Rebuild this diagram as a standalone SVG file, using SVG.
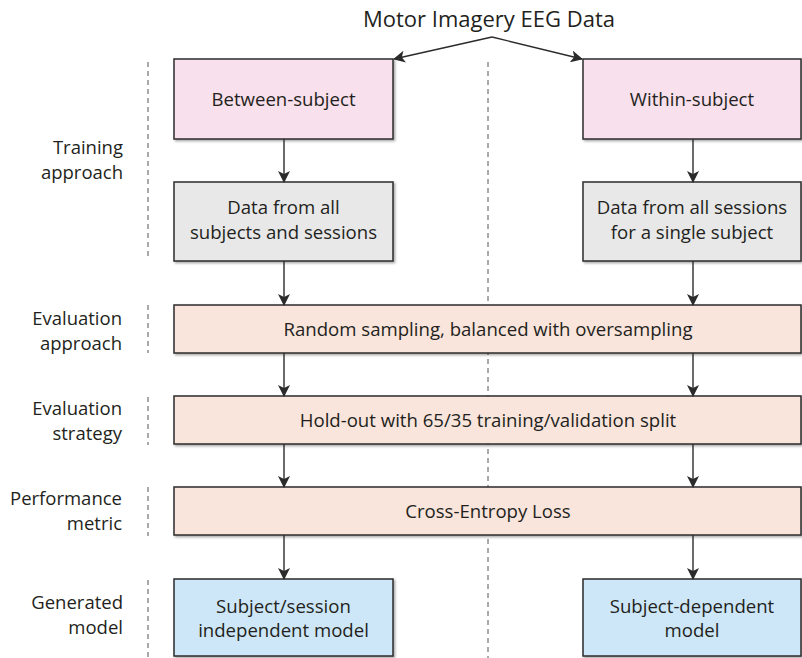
<svg xmlns="http://www.w3.org/2000/svg" width="802" height="658" viewBox="0 0 802 658">
  <defs>
    <filter id="shadow" x="-5%" y="-10%" width="115%" height="130%">
      <feDropShadow dx="1.5" dy="1.5" stdDeviation="1.2" flood-color="#000" flood-opacity="0.35"/>
    </filter>
    <marker id="arrow" viewBox="0 0 12 12" refX="11" refY="6" markerWidth="12" markerHeight="12" markerUnits="userSpaceOnUse" orient="auto">
      <path d="M0,0 L12,6 L0,12 L3,6 Z" fill="#2b2b2b"/>
    </marker>
    <style>
      .box { stroke: #2b2b2b; stroke-width: 1.5; filter: url(#shadow); }
      .pink { fill: #f8e0ec; }
      .grey { fill: #e8e8e8; }
      .peach { fill: #f9e5dc; }
      .blue { fill: #cde7f8; }
      text { font-family: "Open Sans", "Noto Sans", "Liberation Sans", sans-serif; fill: #231f20; }
      .t { font-size: 18.6px; text-anchor: middle; }
      .lbl { font-size: 18.5px; text-anchor: end; }
      .title { font-size: 22px; text-anchor: middle; }
      .dash { stroke: #555; stroke-width: 1; stroke-dasharray: 5 4; fill: none; }
      .conn { stroke: #2b2b2b; stroke-width: 1.4; fill: none; marker-end: url(#arrow); }
    </style>
  </defs>

  <rect width="802" height="658" fill="#ffffff"/>

  <!-- dashed separators -->
  <g id="separators">
    <line class="dash" x1="488" y1="62" x2="488" y2="658"/>
    <line class="dash" x1="148" y1="62" x2="148" y2="256"/>
    <line class="dash" x1="148" y1="305" x2="148" y2="353"/>
    <line class="dash" x1="148" y1="397" x2="148" y2="445"/>
    <line class="dash" x1="148" y1="487" x2="148" y2="536"/>
    <line class="dash" x1="148" y1="580" x2="148" y2="658"/>
  </g>

  <!-- row labels -->
  <g id="labels">
    <text class="lbl" x="123" y="154">Training</text>
    <text class="lbl" x="123" y="179">approach</text>
    <text class="lbl" x="122" y="325">Evaluation</text>
    <text class="lbl" x="122" y="350">approach</text>
    <text class="lbl" x="122" y="415">Evaluation</text>
    <text class="lbl" x="122" y="440">strategy</text>
    <text class="lbl" x="122" y="505">Performance</text>
    <text class="lbl" x="122" y="530">metric</text>
    <text class="lbl" x="123" y="609">Generated</text>
    <text class="lbl" x="123" y="634">model</text>
  </g>

  <g id="title">
    <text class="title" x="489" y="27">Motor Imagery EEG Data</text>
  </g>

  <g id="between-subject">
    <rect class="box pink" x="174" y="59" width="219" height="80"/>
    <text class="t" x="283.5" y="106">Between-subject</text>
  </g>

  <g id="within-subject">
    <rect class="box pink" x="583" y="59" width="218" height="80"/>
    <text class="t" x="692" y="106">Within-subject</text>
  </g>

  <g id="data-all">
    <rect class="box grey" x="174" y="182" width="219" height="79"/>
    <text class="t" x="283.5" y="214">Data from all</text>
    <text class="t" x="283.5" y="239">subjects and sessions</text>
  </g>

  <g id="data-single">
    <rect class="box grey" x="583" y="182" width="218" height="79"/>
    <text class="t" x="692" y="214">Data from all sessions</text>
    <text class="t" x="692" y="239">for a single subject</text>
  </g>

  <g id="random-sampling">
    <rect class="box peach" x="174" y="305" width="627" height="48"/>
    <text class="t" x="488" y="336">Random sampling, balanced with oversampling</text>
  </g>

  <g id="hold-out">
    <rect class="box peach" x="174" y="396" width="627" height="48"/>
    <text class="t" x="488" y="427">Hold-out with 65/35 training/validation split</text>
  </g>

  <g id="cross-entropy">
    <rect class="box peach" x="174" y="487" width="627" height="48"/>
    <text class="t" x="488" y="518">Cross-Entropy Loss</text>
  </g>

  <g id="independent-model">
    <rect class="box blue" x="174" y="579" width="219" height="77"/>
    <text class="t" x="283.5" y="613">Subject/session</text>
    <text class="t" x="283.5" y="637">independent model</text>
  </g>

  <g id="dependent-model">
    <rect class="box blue" x="583" y="579" width="218" height="77"/>
    <text class="t" x="692" y="613">Subject-dependent</text>
    <text class="t" x="692" y="637">model</text>
  </g>

  <!-- connectors -->
  <g id="connectors">
    <line class="conn" x1="492" y1="37" x2="394" y2="59"/>
    <line class="conn" x1="492" y1="37" x2="582" y2="59"/>
    <line class="conn" x1="284" y1="139" x2="284" y2="182"/>
    <line class="conn" x1="284" y1="261" x2="284" y2="305"/>
    <line class="conn" x1="284" y1="353" x2="284" y2="396"/>
    <line class="conn" x1="284" y1="444" x2="284" y2="487"/>
    <line class="conn" x1="284" y1="535" x2="284" y2="579"/>
    <line class="conn" x1="693" y1="139" x2="693" y2="182"/>
    <line class="conn" x1="693" y1="261" x2="693" y2="305"/>
    <line class="conn" x1="693" y1="353" x2="693" y2="396"/>
    <line class="conn" x1="693" y1="444" x2="693" y2="487"/>
    <line class="conn" x1="693" y1="535" x2="693" y2="579"/>
  </g>
</svg>
